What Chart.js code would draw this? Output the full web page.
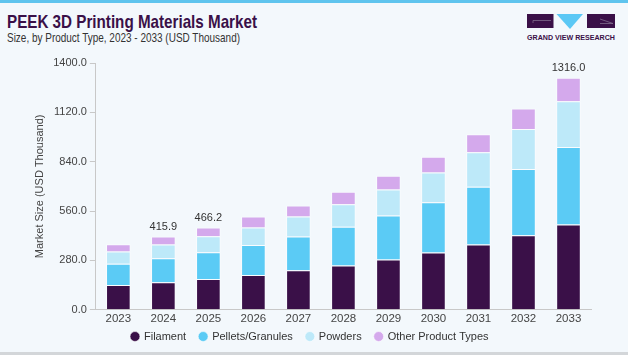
<!DOCTYPE html>
<html>
<head>
<meta charset="utf-8">
<script src="https://cdn.jsdelivr.net/npm/chart.js@4"></script>
<style>
  html, body { margin:0; padding:0; }
  body { width:628px; height:355px; background:#f3f8fc; position:relative; overflow:hidden; font-family:"Liberation Sans", Arial, sans-serif; }
  #topbar { position:absolute; left:0; top:0; width:628px; height:3px; background:#5fc4ee; }
  #bottombar { position:absolute; left:0; top:352px; width:628px; height:3px; background:#d3d6d9; }
  #title { position:absolute; left:7px; top:11px; font-weight:bold; font-size:19px; color:#3a1048; white-space:nowrap; transform-origin:0 0; }
  #subtitle { position:absolute; left:7px; top:30px; font-size:13px; color:#333; white-space:nowrap; transform-origin:0 0; }
  #logo { position:absolute; left:524px; top:12px; }
  #wrap { position:absolute; left:0; top:0; width:628px; height:352px; }
</style>
</head>
<body>
<div id="topbar"></div>
<div id="bottombar"></div>
<div id="title">PEEK 3D Printing Materials Market</div>
<div id="subtitle">Size, by Product Type, 2023 - 2033 (USD Thousand)</div>
<svg id="logo" width="96" height="32" viewBox="0 0 96 32">
  <rect x="3" y="2" width="26.5" height="14" fill="#3a1048"/>
  <polyline points="9,11 9,8.5 27,8.5" fill="none" stroke="#8a7896" stroke-width="0.7"/>
  <polygon points="32.5,2 59,2 46,17" fill="#5bc8f5"/>
  <rect x="63" y="2" width="28" height="14" fill="#3a1048"/>
  <polyline points="76,7 89,11.5 76,11.5" fill="none" stroke="#8a7896" stroke-width="0.7"/>
  <text x="47" y="28" text-anchor="middle" font-family="Liberation Sans, Arial" font-weight="bold" font-size="7" fill="#3a1048" textLength="88" lengthAdjust="spacingAndGlyphs">GRAND VIEW RESEARCH</text>
</svg>
<div id="wrap"><canvas id="c" width="628" height="352"></canvas></div>
<script>
// ---- data ----
const years = ['2023','2024','2025','2026','2027','2028','2029','2030','2031','2032','2033'];
const filament = [140.7, 155.9, 174.5, 197.0, 223.4, 251.5, 285.3, 324.7, 369.7, 422.1, 484.0];
const pellets  = [119.9, 136.7, 151.9, 170.5, 191.3, 219.5, 249.3, 284.8, 328.1, 377.0, 438.9];
const powders  = [ 69.7,  77.1,  90.0,  99.6, 114.3, 127.2, 148.0, 168.8, 195.3, 226.8, 260.6];
const other    = [ 41.1,  46.2,  49.8,  61.9,  61.9,  71.5,  77.1,  90.0, 103.0, 116.5, 132.5];
const totalLabels = [null, '415.9', '466.2', null, null, null, null, null, null, null, '1316.0'];
const yTicks = [0, 280, 560, 840, 1120, 1400];

// fit title widths
function fitWidth(id, w){ const el=document.getElementById(id); const s=w/el.getBoundingClientRect().width; el.style.transform='scaleX('+s+')'; }
fitWidth('title', 250);
fitWidth('subtitle', 233);

const totalsPlugin = {
  id:'totals',
  afterDatasetsDraw(chart){
    const ctx = chart.ctx;
    const meta = chart.getDatasetMeta(chart.data.datasets.length-1);
    const y = chart.scales.y;
    ctx.save();
    ctx.font = '11px "Liberation Sans", Arial, sans-serif';
    ctx.fillStyle = '#333';
    ctx.textAlign = 'center';
    ctx.textBaseline = 'bottom';
    totalLabels.forEach((lab,i)=>{
      if(!lab) return;
      const tot = filament[i]+pellets[i]+powders[i]+other[i];
      ctx.fillText(lab, meta.data[i].x, y.getPixelForValue(tot)-4);
    });
    ctx.restore();
  }
};

const common = { borderColor:'rgba(255,255,255,0.55)', borderWidth:1, barPercentage:0.547, categoryPercentage:1 };
const chart = new Chart(document.getElementById('c'), {
  type:'bar',
  data:{
    labels: years,
    datasets:[
      Object.assign({label:'Filament', data:filament, backgroundColor:'#3a1048'}, common),
      Object.assign({label:'Pellets/Granules', data:pellets, backgroundColor:'#5bcbf5'}, common),
      Object.assign({label:'Powders', data:powders, backgroundColor:'#bde9f9'}, common),
      Object.assign({label:'Other Product Types', data:other, backgroundColor:'#d4a9ec'}, common)
    ]
  },
  options:{
    responsive:false,
    animation:false,
    layout:{ padding:{ top:63, left:29, right:37, bottom:0 } },
    plugins:{
      legend:{
        position:'bottom',
        labels:{ usePointStyle:true, pointStyle:'circle', boxWidth:7, boxHeight:7, padding:13.5, color:'#333',
                 font:{ family:'"Liberation Sans", Arial, sans-serif', size:11 } }
      },
      tooltip:{ enabled:false }
    },
    scales:{
      x:{
        stacked:true,
        grid:{ display:false, drawTicks:false, tickLength:0 },
        border:{ display:true, color:'#c8c8c8', width:1 },
        ticks:{ color:'#444', font:{ family:'"Liberation Sans", Arial, sans-serif', size:11.5 }, padding:2 }
      },
      y:{
        stacked:true,
        min:0, max:1400,
        afterBuildTicks(axis){ axis.ticks = yTicks.map(v=>({value:v})); },
        grid:{ drawOnChartArea:false, drawTicks:true, tickLength:6, color:'#c8c8c8' },
        border:{ display:true, color:'#c8c8c8', width:1 },
        ticks:{ color:'#444', padding:3, font:{ family:'"Liberation Sans", Arial, sans-serif', size:11 },
                callback:(v)=>Number(v).toFixed(1) },
        title:{ display:true, text:'Market Size (USD Thousand)', color:'#444',
                font:{ family:'"Liberation Sans", Arial, sans-serif', size:11 } }
      }
    }
  },
  plugins:[totalsPlugin]
});

// tighten the legend vertically while keeping wide horizontal gaps between items
const SHIFT = 10;
const lg = chart.legend;
const origFit = lg.fit;
lg.fit = function(){ origFit.call(this); this.height -= SHIFT; };
const origDraw = lg.draw;
lg.draw = function(){ this.top -= SHIFT; origDraw.call(this); this.top += SHIFT; };
chart.update();
</script>
</body>
</html>
